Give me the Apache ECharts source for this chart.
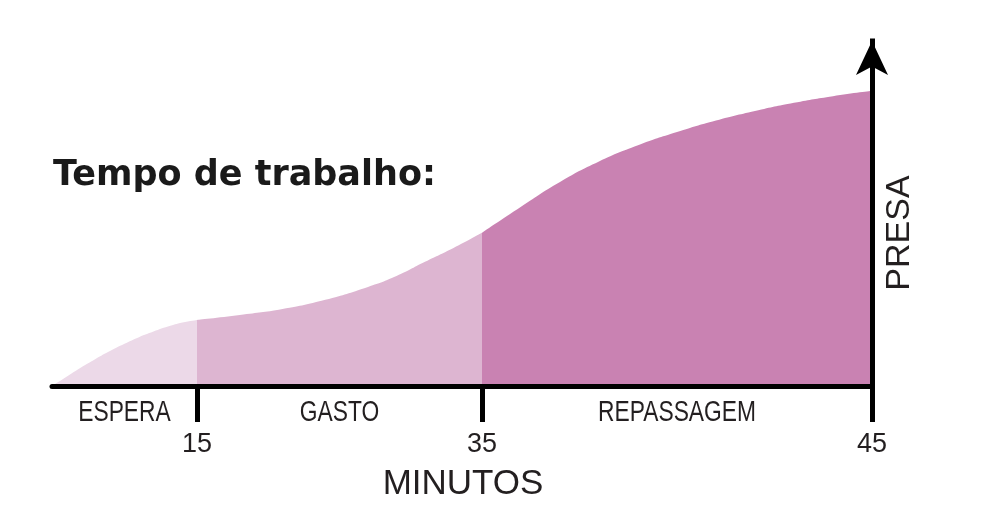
<!DOCTYPE html>
<html>
<head>
<meta charset="utf-8">
<script src="https://cdn.jsdelivr.net/npm/echarts@6/dist/echarts.min.js"></script>
<style>html,body{margin:0;padding:0;background:#fff;}#c{width:994px;height:516px;}</style>
</head>
<body>
<div id="c"></div>
<script>
// ---- data ----
const phaseNames = ['ESPERA', 'GASTO', 'REPASSAGEM'];
const phaseStarts = [0, 15, 35];
const phaseEnds = [15, 35, 45];
const phaseColors = ['#ECD9E8', '#DDB5D1', '#C982B2'];

const esperaMin = [0, 1.5, 3, 4.5, 6, 7.5, 9, 10.5, 12, 13.5, 15];
const esperaPresa = [0, 2.8, 5.6, 8.2, 10.6, 12.8, 14.8, 16.5, 18.0, 19.2, 20.0];
const gastoMin = [15, 18, 21, 24, 27, 29, 31, 33, 35];
const gastoPresa = [20.0, 21.5, 23.3, 26.1, 30.0, 33.3, 37.6, 41.8, 46.4];
const repassMin = [35, 36, 37, 38, 39, 40, 41, 42, 43, 44, 45];
const repassPresa = [46.4, 54.3, 61.8, 68.0, 72.9, 76.9, 80.4, 83.3, 85.8, 87.8, 89.4];

const presaMax = 104.5;
const titleText = 'Tempo de trabalho:';
const xTitle = 'MINUTOS';
const yTitle = 'PRESA';

// ---- chart ----
const chart = echarts.init(document.getElementById('c'), null, {renderer: 'canvas'});
const txt = '#231f20';
const mins = [esperaMin, gastoMin, repassMin];
const vals = [esperaPresa, gastoPresa, repassPresa];

const grids = [
  {left: 52, top: 41, width: 145, bottom: 130},
  {left: 197, top: 41, width: 285, bottom: 130},
  {left: 482, top: 41, right: 122, bottom: 130}
];

const xAxes = phaseNames.map((n, i) => ({
  type: 'value', gridIndex: i, min: phaseStarts[i], max: phaseEnds[i], z: 5,
  axisLine: {show: true, onZero: false, lineStyle: {color: '#000', width: 5}},
  axisTick: {show: true, customValues: [phaseEnds[i]], length: 36, lineStyle: {color: '#000', width: 5}},
  axisLabel: {show: true, customValues: [phaseEnds[i]], margin: 45, fontSize: 27,
    color: txt, fontFamily: 'Liberation Sans, Arial, sans-serif'},
  splitLine: {show: false}
}));

const yAxes = phaseNames.map((n, i) => ({
  type: 'value', gridIndex: i, min: 0, max: presaMax, z: 5,
  show: i === 2, position: 'right',
  axisLine: {show: i === 2, onZero: false, symbol: ['none', 'arrow'], symbolSize: [24, 34],
    lineStyle: {color: '#000', width: 5, cap: 'square'}},
  axisTick: {show: false}, axisLabel: {show: false}, splitLine: {show: false}
}));

const series = phaseNames.map((n, i) => ({
  type: 'line', name: n, xAxisIndex: i, yAxisIndex: i,
  data: mins[i].map((m, k) => [m, vals[i][k]]),
  smooth: 0.5, showSymbol: false, symbol: 'none',
  lineStyle: {width: 0, color: phaseColors[i]},
  areaStyle: {color: phaseColors[i], opacity: 1, origin: 'start'},
  z: 2
}));

chart.setOption({
  animation: false,
  backgroundColor: '#fff',
  title: {
    text: titleText, left: 53, top: 158, padding: 0,
    textStyle: {fontSize: 35, fontWeight: 'bold', color: '#1a1a1a', fontFamily: '"DejaVu Sans", sans-serif'}
  },
  grid: grids,
  xAxis: xAxes,
  yAxis: yAxes,
  series: series
});

// phase labels centred in each phase, positioned through the axes' own scales
const phaseGraphics = phaseNames.map((n, i) => {
  const px = chart.convertToPixel({xAxisIndex: i, yAxisIndex: i}, [(phaseStarts[i] + phaseEnds[i]) / 2, 0]);
  return {type: 'text', x: px[0], y: px[1] + 27, scaleX: 0.76, scaleY: 1,
    style: {text: n, fontSize: 30, fill: txt, fontFamily: 'Liberation Sans, Arial, sans-serif',
      align: 'center', verticalAlign: 'middle'}};
});

chart.setOption({
  graphic: phaseGraphics.concat([
    {type: 'text', x: 463, y: 484, style: {text: xTitle, fontSize: 35, fill: txt,
      fontFamily: 'Liberation Sans, Arial, sans-serif', align: 'center', verticalAlign: 'middle'}},
    {type: 'text', x: 900, y: 233, rotation: Math.PI / 2, style: {text: yTitle, fontSize: 34, fill: txt,
      fontFamily: 'Liberation Sans, Arial, sans-serif', align: 'center', verticalAlign: 'middle'}}
  ])
});
</script>
</body>
</html>
